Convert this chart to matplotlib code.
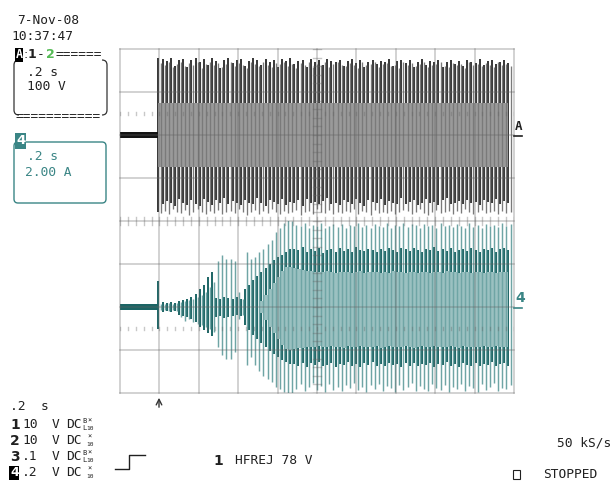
import numpy as np
import matplotlib
matplotlib.use("Agg")
import matplotlib.pyplot as plt
from matplotlib.path import Path
from matplotlib.patches import PathPatch, FancyBboxPatch, Rectangle

# ---------------- data ----------------
TIME_PER_DIV = 0.2          # s/div
N_DIV_X = 10
CH_A_PER_DIV = 100          # V/div
CH_4_PER_DIV = 2.0          # A/div
CYCLE_START = 0.1954        # s, trigger / start of burst
CYCLE_PERIOD = 0.0209       # s, displayed cycle spacing

PRE_TOP = 7                 # V, pre-trigger noise band (channel A)
PRE_BOT = 0.14              # A, pre-trigger noise band (channel 4)
TOP_BAND_HI = 75            # V, dense grey core of channel A
TOP_BAND_LO = -73

TOP_BLACK_HI = [179,176,172,178,160,175,177,158,174,179,
                171,176,162,178,173,157,175,179,168,174,
                176,160,172,178,175,163,177,170,174,159,
                176,172,178,165,173,175,158,177,171,174,
                162,176,173,170,175,160,172,177,168,174,
                158,171,175,166,173,169,176,160,172,174,
                167,175,159,170,176,164,172,169,175,158,
                171,174,166,173,160,175,170,168,176,162,
                172,174,165,171,175,168]
TOP_BLACK_LO = [-178,-160,-152,-158,-163,-148,-156,-161,-150,-159,
                -164,-147,-155,-162,-151,-158,-145,-160,-153,-157,
                -162,-149,-156,-160,-146,-158,-163,-151,-155,-159,
                -148,-161,-154,-157,-150,-163,-147,-158,-155,-160,
                -152,-146,-159,-156,-162,-149,-154,-160,-147,-157,
                -163,-151,-155,-158,-148,-161,-153,-156,-159,-145,
                -160,-154,-150,-162,-157,-148,-158,-155,-161,-151,
                -146,-159,-156,-152,-160,-149,-157,-154,-162,-150,
                -155,-158,-147,-160,-153,-157]
TOP_GRAY_HI = [168,164,170,158,166,171,160,167,163,169,
               155,166,170,162,168,159,165,171,161,167,
               164,157,169,166,160,170,163,158,167,165,
               171,161,166,156,168,164,170,159,165,162,
               169,158,166,171,163,160,167,164,157,169,
               162,166,170,159,165,168,161,164,156,170,
               163,167,160,165,169,158,164,166,171,161,
               159,168,163,166,157,170,162,165,160,168,
               164,158,169,163,166,161]
TOP_GRAY_LO = [-180,-176,-183,-172,-178,-181,-174,-184,-177,-171,
               -179,-182,-175,-180,-173,-183,-178,-176,-181,-170,
               -177,-184,-179,-174,-182,-176,-180,-172,-178,-183,
               -175,-181,-177,-173,-184,-179,-176,-182,-171,-178,
               -180,-174,-183,-177,-181,-175,-179,-172,-182,-176,
               -178,-184,-173,-180,-177,-181,-175,-183,-179,-174,
               -176,-182,-178,-171,-180,-184,-177,-173,-181,-179,
               -175,-183,-176,-180,-172,-178,-182,-177,-174,-181,
               -179,-175,-183,-176,-180,-178]

BOT_DARK_HI = [1.21,0.23,0.19,0.23,0.19,0.28,0.33,0.37,0.47,0.60,
               0.84,1.02,1.40,1.63,0.42,0.37,0.47,0.42,0.37,0.47,
               0.37,0.84,1.02,1.26,1.44,1.63,1.81,2.00,2.19,2.33,
               2.46,2.60,2.70,
               2.74,2.65,2.79,2.58,2.70,2.62,2.77,2.55,2.68,2.72,
               2.60,2.76,2.64,2.70,2.57,2.79,2.66,2.61,2.74,2.69,
               2.56,2.72,2.63,2.78,2.67,2.59,2.75,2.70,2.62,2.77,
               2.65,2.58,2.73,2.68,2.80,2.61,2.71,2.64,2.76,2.59,
               2.69,2.74,2.62,2.78,2.66,2.57,2.72,2.67,2.75,2.60,
               2.70,2.77,2.65]
BOT_DARK_LO = [-1.02,-0.23,-0.19,-0.23,-0.19,-0.37,-0.42,-0.47,-0.56,-0.70,
               -0.93,-1.07,-1.21,-1.35,-0.47,-0.42,-0.51,-0.47,-0.42,-0.37,
               -0.42,-0.84,-1.07,-1.30,-1.49,-1.67,-1.86,-2.05,-2.19,-2.33,
               -2.46,-2.56,-2.65,
               -2.65,-2.72,-2.58,-2.78,-2.62,-2.70,-2.55,-2.75,-2.68,-2.60,
               -2.77,-2.63,-2.71,-2.57,-2.74,-2.66,-2.79,-2.61,-2.69,-2.56,
               -2.73,-2.64,-2.76,-2.59,-2.70,-2.67,-2.80,-2.62,-2.72,-2.58,
               -2.75,-2.65,-2.69,-2.60,-2.77,-2.63,-2.71,-2.57,-2.74,-2.66,
               -2.78,-2.61,-2.68,-2.73,-2.59,-2.76,-2.64,-2.70,-2.56,-2.72,
               -2.67,-2.62,-2.75]
BOT_LIGHT_HI = [0.14,0.14,0.19,0.14,0.19,0.23,0.28,0.33,0.37,0.47,
                0.56,0.70,0.93,1.16,2.14,2.42,2.23,2.23,2.14,0.70,
                0.37,2.56,2.23,2.33,2.56,2.70,2.93,3.16,3.49,3.72,
                3.95,4.05,4.00,
                3.86,3.77,3.91,3.72,3.84,3.79,3.93,3.70,3.81,3.88,
                3.75,3.90,3.68,3.83,3.79,3.92,3.74,3.86,3.71,3.89,
                3.80,3.76,3.93,3.69,3.85,3.78,3.91,3.73,3.87,3.82,
                3.70,3.90,3.77,3.84,3.72,3.93,3.79,3.86,3.74,3.88,
                3.81,3.69,3.92,3.76,3.85,3.71,3.89,3.78,3.83,3.75,
                3.91,3.80,3.87]
BOT_LIGHT_LO = [-0.14,-0.14,-0.19,-0.14,-0.19,-0.47,-0.65,-0.56,-0.70,-0.79,
                -0.84,-0.93,-1.02,-1.16,-1.86,-2.23,-2.42,-2.42,-2.09,-0.56,
                -0.37,-2.70,-2.33,-2.70,-2.98,-3.21,-3.35,-3.49,-3.72,-3.81,
                -3.95,-4.00,-4.00,
                -3.81,-3.60,-3.93,-3.72,-3.55,-3.88,-3.67,-3.95,-3.58,-3.84,
                -3.70,-3.91,-3.62,-3.79,-3.53,-3.86,-3.74,-3.96,-3.65,-3.82,
                -3.57,-3.90,-3.69,-3.77,-3.94,-3.61,-3.85,-3.73,-3.52,-3.89,
                -3.66,-3.80,-3.93,-3.59,-3.76,-3.87,-3.63,-3.95,-3.71,-3.83,
                -3.56,-3.91,-3.68,-3.78,-3.94,-3.60,-3.86,-3.72,-3.54,-3.89,
                -3.75,-3.81,-3.64]
BOT_FILL_HI = [0.00,0.00,0.00,0.00,0.00,0.00,0.00,0.00,0.00,0.00,
               0.00,0.00,0.00,0.00,0.00,0.00,0.00,0.00,0.00,0.00,
               0.00,0.00,0.00,0.00,0.00,0.28,0.56,0.84,1.12,1.40,
               1.67,1.86,1.86,
               1.81,1.77,1.74,1.70,1.68,1.65,1.66,1.63,1.67,1.64,
               1.62,1.66,1.63,1.65,1.61,1.64,1.67,1.62,1.65,1.63,
               1.66,1.61,1.64,1.62,1.67,1.63,1.65,1.60,1.64,1.66,
               1.62,1.65,1.63,1.61,1.66,1.64,1.62,1.67,1.63,1.65,
               1.61,1.64,1.66,1.62,1.65,1.63,1.60,1.64,1.66,1.62,
               1.65,1.63,1.64]
BOT_FILL_LO = [0.00,0.00,0.00,0.00,0.00,0.00,0.00,0.00,0.00,0.00,
               0.00,0.00,0.00,0.00,0.00,0.00,0.00,0.00,0.00,0.00,
               0.00,0.00,0.00,0.00,0.00,-0.28,-0.60,-0.93,-1.21,-1.49,
               -1.77,-1.95,-2.00,
               -1.95,-1.91,-1.88,-1.86,-1.84,-1.86,-1.83,-1.87,-1.85,-1.82,
               -1.86,-1.84,-1.88,-1.83,-1.86,-1.85,-1.82,-1.87,-1.84,-1.86,
               -1.83,-1.88,-1.85,-1.82,-1.86,-1.84,-1.87,-1.83,-1.85,-1.88,
               -1.84,-1.82,-1.86,-1.85,-1.83,-1.87,-1.84,-1.86,-1.82,-1.85,
               -1.88,-1.83,-1.86,-1.84,-1.87,-1.85,-1.82,-1.86,-1.84,-1.83,
               -1.87,-1.85,-1.84]

CHANNEL_ROWS = [("1", "10", True), ("2", "10", False), ("3", ".1", True), ("4", ".2", False)]

# ---------------- figure ----------------
W, H = 615, 482
fig = plt.figure(figsize=(W / 100, H / 100), dpi=100)
fig.patch.set_facecolor("white")

X0, X1 = 120, 514
Y0, YM, Y1 = 49, 221.5, 393


def rect(x0, y0, x1, y1):
    return [x0 / W, 1 - y1 / H, (x1 - x0) / W, (y1 - y0) / H]


ax_top = fig.add_axes(rect(X0, Y0, X1, YM))
ax_bot = fig.add_axes(rect(X0, YM, X1, Y1))
t_end = TIME_PER_DIV * N_DIV_X
for a in (ax_top, ax_bot):
    a.set_xlim(0, t_end)
    a.axis("off")
ax_top.set_ylim(-2 * CH_A_PER_DIV, 2 * CH_A_PER_DIV)
ax_bot.set_ylim(-2 * CH_4_PER_DIV, 2 * CH_4_PER_DIV)

n = len(TOP_BLACK_HI)
t_cyc = CYCLE_START + CYCLE_PERIOD * np.arange(n)
half = CYCLE_PERIOD / 2

BLACK = "#141414"
DARK = "#1c6565"

# channel A (top)
ax_top.fill_between([0, CYCLE_START], -PRE_TOP, PRE_TOP, color=BLACK, lw=0, zorder=2)
ax_top.vlines(t_cyc, TOP_BLACK_LO, TOP_BLACK_HI, colors=BLACK, lw=1.2, zorder=2)
ax_top.fill_between(t_cyc, TOP_BAND_LO, TOP_BAND_HI, color="#9a9a9a", lw=0,
                    step="mid", zorder=3)
ax_top.vlines(t_cyc + half, TOP_GRAY_LO, TOP_GRAY_HI, colors="#7a7a7a", lw=0.95, zorder=4)

# channel 4 (bottom)
ax_bot.fill_between([0, CYCLE_START], -PRE_BOT, PRE_BOT, color=DARK, lw=0, zorder=2)
ax_bot.vlines(t_cyc, BOT_DARK_LO, BOT_DARK_HI, colors=DARK, lw=1.4, zorder=2)
ax_bot.fill_between(t_cyc, BOT_FILL_LO, BOT_FILL_HI, color="#9bc1c1", lw=0,
                    step="mid", zorder=3)
ax_bot.vlines(t_cyc + half, BOT_LIGHT_LO, BOT_LIGHT_HI, colors="#6fa5a5", lw=1.05, zorder=4)

# ---------------- graticule ----------------
g = fig.add_axes(rect(X0, Y0, X1, Y1))
g.patch.set_alpha(0)
g.set_xlim(0, 10)
g.set_ylim(-4, 4)
g.axis("off")
gk = dict(color="#646464", alpha=0.36, lw=1.1, clip_on=False)
for xv in range(0, 11):
    g.plot([xv, xv], [-4, 4], **gk)
for yv in range(-4, 5):
    g.plot([0, 10], [yv, yv], **gk)
minor = np.arange(0, 10.01, 0.2)
for xv in minor:
    g.plot([xv, xv], [-0.1, 0.1], color="#646464", alpha=0.36, lw=1.0)
    for yv in (2.5, -2.5):
        g.plot([xv, xv], [yv - 0.025, yv + 0.025], color="#646464", alpha=0.35, lw=1.0)
for yv in np.arange(-4, 4.01, 0.2):
    g.plot([4.9, 5.1], [yv, yv], color="#646464", alpha=0.36, lw=1.0)

# ---------------- annotations (pixel overlay) ----------------
ov = fig.add_axes([0, 0, 1, 1])
ov.patch.set_alpha(0)
ov.set_xlim(0, W)
ov.set_ylim(H, 0)
ov.axis("off")

MONO = "DejaVu Sans Mono"
SANS = "DejaVu Sans"
FS = 9.3
TXT = "#202020"
TEAL = "#3a8585"
GREEN = "#55bb55"


def T(x, y, s, **kw):
    kw.setdefault("fontsize", FS)
    kw.setdefault("family", MONO)
    kw.setdefault("color", TXT)
    ov.text(x, y, s, ha=kw.pop("ha", "left"), va=kw.pop("va", "center"), **kw)


T(17, 20, "7-Nov-08")
T(11, 36, "10:37:47")

# box 1 (trace A = 1-2)
T(15.5, 55, "A", color="white", fontweight="bold", fontsize=8.5,
  bbox=dict(boxstyle="square,pad=0.06", fc="black", ec="none"))
T(23.5, 55, ":", family=SANS, fontsize=9)
T(28, 55, "1", fontsize=9, fontweight="bold", family=SANS)
T(37, 55, "-")
T(46, 55, "2", fontsize=9, fontweight="bold", family=SANS, color=GREEN)
T(56, 55, "======")
T(27, 72, ".2 s")
T(27, 87, "100 V")
T(15, 117, "===========")
for verts in ([(19, 60), (14, 60), (14, 65), (14, 110), (14, 115), (19, 115)],
              [(102, 60), (107, 60), (107, 65), (107, 110), (107, 115), (102, 115)]):
    codes = [Path.MOVETO, Path.CURVE3, Path.CURVE3, Path.LINETO, Path.CURVE3, Path.CURVE3]
    ov.add_patch(PathPatch(Path(verts, codes), fc="none", ec="#333333", lw=0.9))

# box 2 (trace 4)
ov.add_patch(FancyBboxPatch((14, 142), 92, 61, boxstyle="round,pad=0,rounding_size=4",
                            fc="none", ec=TEAL, lw=1.0))
T(16, 141, "4", color="white", fontweight="bold", family=SANS, fontsize=9.5,
  bbox=dict(boxstyle="square,pad=0.08", fc=TEAL, ec="none"))
T(27, 157, ".2 s", color=TEAL)
T(25, 173, "2.00 A", color=TEAL)

# trace markers at right edge
T(515, 127, "A", fontsize=9, fontweight="bold")
ov.plot([514, 522], [135.5, 135.5], color=TXT, lw=1.2)
T(515, 298, "4", fontsize=10, fontweight="bold", family=SANS, color=TEAL)
ov.plot([514, 522], [307.5, 307.5], color=TEAL, lw=1.2)

# trigger arrow
ov.annotate("", xy=(159, 395), xytext=(159, 410),
            arrowprops=dict(arrowstyle="->", lw=1.0, color="#333333"))

# bottom info
T(10, 407, ".2  s")
rows_y = [425, 441, 457, 473]
for (ch, val, bl), yy in zip(CHANNEL_ROWS, rows_y):
    if ch == "4":
        T(10, yy, ch, fontsize=9, fontweight="bold", family=SANS, color="white",
          bbox=dict(boxstyle="square,pad=0.05", fc="black", ec="none"))
    else:
        T(10, yy, ch, fontsize=10, fontweight="bold", family=SANS)
    T(22, yy, val)
    T(52, yy, "V")
    T(66, yy, "DC")
    if bl:
        T(82, yy - 4, "B", fontsize=5)
        T(82, yy + 3, "L", fontsize=5)
    T(87, yy - 4, "×", fontsize=5)
    T(86.5, yy + 3, "10", fontsize=4.5)

T(557, 443, "50 kS/s")
ov.plot([115, 129, 129, 145], [469, 469, 455, 455], color=TXT, lw=1.0)
T(213, 461, "1", fontsize=10, fontweight="bold", family=SANS)
T(235, 461, "HFREJ 78 V")
ov.add_patch(Rectangle((513, 470), 7, 9, fc="none", ec=TXT, lw=0.8))
T(543, 475, "STOPPED")

fig.savefig("out.png", dpi=100, facecolor="white")
